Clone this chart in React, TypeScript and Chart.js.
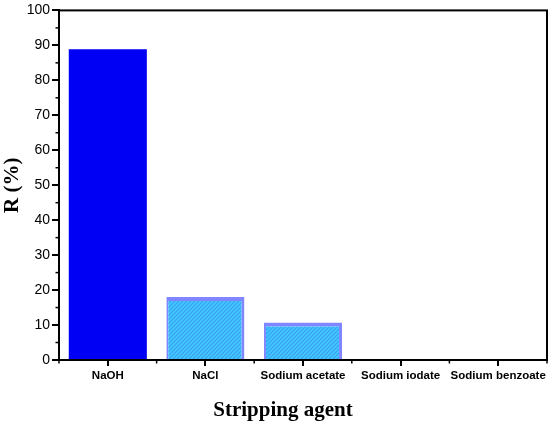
import React, { useEffect, useRef } from "react";
import { Chart, registerables } from "chart.js";

Chart.register(...registerables);

const categories = ["NaOH", "NaCl", "Sodium acetate", "Sodium iodate", "Sodium benzoate"];
const values = [88.9, 18.0, 10.7, 0, 0];
const yTicks = [0, 10, 20, 30, 40, 50, 60, 70, 80, 90, 100];

function makeHatch(): CanvasPattern | string {
  const c = document.createElement("canvas");
  c.width = 4;
  c.height = 4;
  const g = c.getContext("2d");
  if (!g) return "#40c8ff";
  g.fillStyle = "#40c8ff";
  g.fillRect(0, 0, 4, 4);
  g.strokeStyle = "#3b9ef2";
  g.lineWidth = 1.1;
  g.beginPath();
  g.moveTo(-1, 5);
  g.lineTo(5, -1);
  g.moveTo(-1, 1);
  g.lineTo(1, -1);
  g.moveTo(3, 5);
  g.lineTo(5, 3);
  g.stroke();
  const p = g.createPattern(c, "repeat");
  return p || "#40c8ff";
}

const framePlugin = {
  id: "frame",
  afterDraw(chart: any) {
    const { ctx, chartArea } = chart;
    const ys = chart.scales.y;
    const xs = chart.scales.x;
    ctx.save();
    ctx.strokeStyle = "#000";
    // box
    ctx.lineWidth = 2;
    ctx.strokeRect(chartArea.left, chartArea.top, chartArea.right - chartArea.left, chartArea.bottom - chartArea.top);
    // minor y ticks
    ctx.lineWidth = 1.5;
    for (let v = 5; v < 100; v += 10) {
      const py = ys.getPixelForValue(v);
      ctx.beginPath();
      ctx.moveTo(chartArea.left - 3.5, py);
      ctx.lineTo(chartArea.left, py);
      ctx.stroke();
    }
    // minor x ticks at category boundaries
    for (let i = 0; i <= categories.length; i++) {
      const px = i < categories.length ? xs.getPixelForValue(i) - (xs.getPixelForValue(1) - xs.getPixelForValue(0)) / 2 : chartArea.right;
      ctx.beginPath();
      ctx.moveTo(px, chartArea.bottom);
      ctx.lineTo(px, chartArea.bottom + 3.5);
      ctx.stroke();
    }
    // x title
    ctx.fillStyle = "#000";
    ctx.font = "bold 21px 'Liberation Serif', 'Times New Roman', serif";
    ctx.textAlign = "center";
    ctx.textBaseline = "middle";
    ctx.fillText("Stripping agent", (chartArea.left + chartArea.right) / 2 - 20, 411);
    ctx.restore();
  },
};

export default function App() {
  const ref = useRef<HTMLCanvasElement | null>(null);
  useEffect(() => {
    document.body.style.margin = "0";
    const canvas = ref.current;
    if (!canvas) return;
    const hatch = makeHatch();
    const chart = new Chart(canvas, {
      type: "bar",
      data: {
        labels: categories,
        datasets: [
          {
            data: values,
            backgroundColor: values.map((_, i) => (i === 0 ? "#0000f5" : hatch)) as any,
            borderColor: values.map((_, i) => (i === 0 ? "#0000f5" : "#7f86ff")),
            borderWidth: values.map((_, i) => (i === 0 ? 0 : { top: 4, left: 2, right: 3, bottom: 0 })) as any,
            borderSkipped: false,
            barPercentage: 0.8,
            categoryPercentage: 1,
          },
        ],
      },
      plugins: [framePlugin],
      options: {
        animation: false,
        responsive: false,
        maintainAspectRatio: false,
        layout: { padding: { left: 0, top: 10, right: 3, bottom: 0 } },
        plugins: { legend: { display: false }, tooltip: { enabled: false }, title: { display: false } },
        scales: {
          x: {
            offset: true,
            border: { display: true, color: "#000", width: 2 },
            grid: { display: true, drawOnChartArea: false, drawTicks: true, tickLength: 6, color: "#000", lineWidth: 2, offset: false },
            ticks: {
              color: "#000",
              font: { family: "'Liberation Sans', Arial, sans-serif", size: 11.5, weight: "bold" },
              padding: 3,
              maxRotation: 0,
              autoSkip: false,
            },
            afterFit(scale: any) {
              scale.height = 67;
            },
          },
          y: {
            min: 0,
            max: 100,
            border: { display: true, color: "#000", width: 2 },
            grid: { display: true, drawOnChartArea: false, drawTicks: true, tickLength: 7, color: "#000", lineWidth: 2 },
            afterBuildTicks(scale: any) {
              scale.ticks = yTicks.map((v) => ({ value: v }));
            },
            ticks: {
              color: "#000",
              font: { family: "'Liberation Sans', Arial, sans-serif", size: 14 },
              padding: 2,
            },
            title: {
              display: true,
              text: "R (%)",
              color: "#000",
              font: { family: "'Liberation Serif', 'Times New Roman', serif", size: 21, weight: "bold" },
              padding: { top: 0, bottom: 0 },
            },
            afterFit(scale: any) {
              scale.width = 59;
            },
          },
        },
      },
    } as any);
    return () => chart.destroy();
  }, []);
  return <canvas ref={ref} width={550} height={427} style={{ display: "block", width: 550, height: 427 }} />;
}
